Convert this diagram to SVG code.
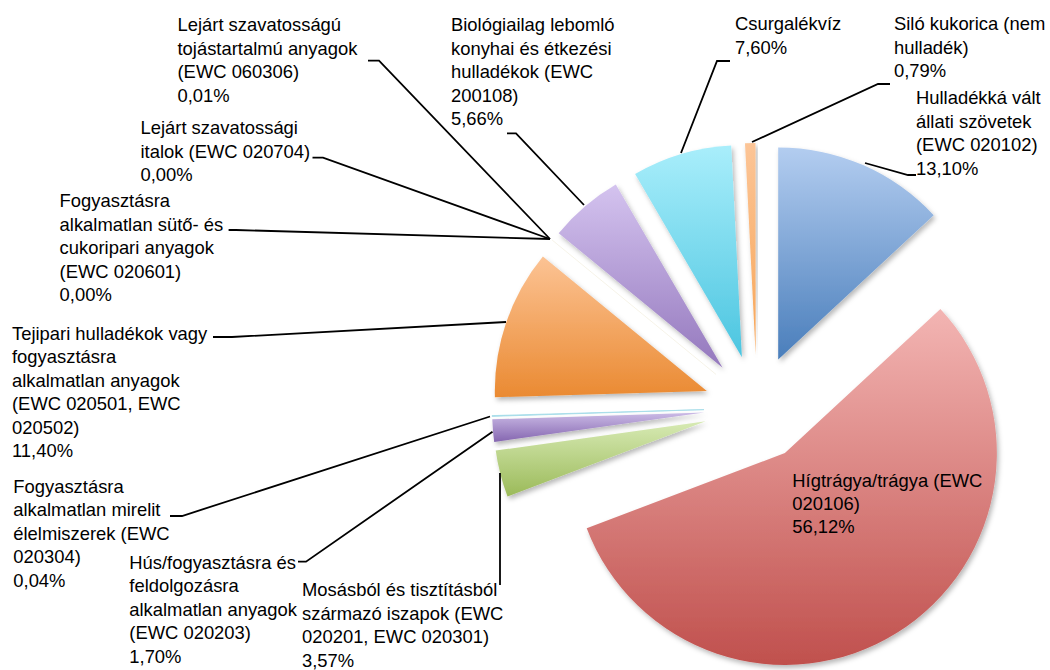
<svg xmlns="http://www.w3.org/2000/svg" width="1050" height="670" viewBox="0 0 1050 670">
<style>
text{font-family:"Liberation Sans",Arial,sans-serif;font-size:18.4px;fill:#000}
.lead{fill:none;stroke:#000;stroke-width:1.8}
.sl{filter:url(#sh)}
</style>
<defs>
<filter id="sh" x="-20%" y="-20%" width="140%" height="140%"><feDropShadow dx="2" dy="3" stdDeviation="2.5" flood-color="#000" flood-opacity="0.28"/></filter>
<linearGradient id="gBlue" x1="0" y1="0" x2="0" y2="1"><stop offset="0" stop-color="#b3cdf0"/><stop offset="1" stop-color="#4a7ebb"/></linearGradient>
<linearGradient id="gRed" x1="0" y1="0" x2="0" y2="1"><stop offset="0" stop-color="#f3b5b3"/><stop offset="1" stop-color="#c0504d"/></linearGradient>
<linearGradient id="gGreen" x1="0" y1="0" x2="0" y2="1"><stop offset="0" stop-color="#d7eab4"/><stop offset="1" stop-color="#9bba59"/></linearGradient>
<linearGradient id="gPurple" x1="0" y1="0" x2="0" y2="1"><stop offset="0" stop-color="#d4c3ef"/><stop offset="1" stop-color="#9478bd"/></linearGradient>
<linearGradient id="gPurple2" x1="0" y1="0" x2="0" y2="1"><stop offset="0" stop-color="#cbbbe6"/><stop offset="1" stop-color="#8566b0"/></linearGradient>
<linearGradient id="gCyan" x1="0" y1="0" x2="0" y2="1"><stop offset="0" stop-color="#a9eefb"/><stop offset="1" stop-color="#4bc5e0"/></linearGradient>
<linearGradient id="gOrange" x1="0" y1="0" x2="0" y2="1"><stop offset="0" stop-color="#fcc394"/><stop offset="1" stop-color="#ea8a32"/></linearGradient>
<linearGradient id="gOrange2" x1="0" y1="0" x2="0" y2="1"><stop offset="0" stop-color="#fcc597"/><stop offset="1" stop-color="#f7a556"/></linearGradient>
</defs>

<g id="slice-hulladekka-valt">
<path class="sl" fill="url(#gBlue)" d="M778.2,359.4 L778.2,147.4 A212,212 0 0 1 933.7,215.3 Z"/>
</g>
<g id="slice-higtragya">
<path class="sl" fill="url(#gRed)" d="M784.9,453 L940.4,308.9 A212,212 0 1 1 586.7,528.3 Z"/>
</g>
<g id="slice-mosasbol">
<path class="sl" fill="url(#gGreen)" d="M705.7,421.2 L507.5,496.5 A212,212 0 0 1 495.7,450.6 Z"/>
</g>
<g id="slice-hus">
<path class="sl" fill="url(#gPurple2)" d="M704.2,412.5 L494.2,441.9 A212,212 0 0 1 492.3,419.3 Z"/>
</g>
<g id="slice-mirelit">
<path fill="#a5dce9" stroke="#a5dce9" stroke-width="0.8" d="M704,409.6 L492.1,416.4 L492.1,415.6 Z"/>
</g>
<g id="slice-tejipari">
<path class="sl" fill="url(#gOrange)" d="M706.8,390.9 L494.9,397.2 A212,212 0 0 1 542.9,256.5 Z"/>
</g>
<g id="slice-zero">
<path fill="none" stroke="#f4f0e2" stroke-width="0.8" d="M716,374.4 L552.1,240"/>
</g>
<g id="slice-biologiai">
<path class="sl" fill="url(#gPurple)" d="M722.6,367.7 L558.7,233.2 A212,212 0 0 1 615.8,184.5 Z"/>
</g>
<g id="slice-csurgalekviz">
<path class="sl" fill="url(#gCyan)" d="M741.9,357.2 L635.1,174 A212,212 0 0 1 731.2,145.5 Z"/>
</g>
<g id="slice-silo">
<path class="sl" fill="url(#gOrange2)" d="M755.65,355 L745,143.3 A212,212 0 0 1 755.5,143 Z"/>
</g>

<g id="connectors">
<polyline class="lead" points="368,60.7 379,60.7 550,239"/>
<polyline class="lead" points="312.5,157.7 323,157.7 550,239"/>
<polyline class="lead" points="228.6,230 236,230 550,239"/>
<polyline class="lead" points="507,133.3 516,133.3 584,205"/>
<polyline class="lead" points="730,61 717,61 681,153"/>
<polyline class="lead" points="890,84 878,84 752,142"/>
<polyline class="lead" points="916,175 908,175 865,163"/>
<polyline class="lead" points="213,337 232,337 506,322"/>
<polyline class="lead" points="170,516 182,516 490,416.5"/>
<polyline class="lead" points="298,561.7 306,561.7 492.5,431.7"/>
<polyline class="lead" points="500,585 500,473"/>
</g>

<g id="label-tojas">
<text x="177.5" y="31">Lejárt szavatosságú</text>
<text x="177.5" y="54.5">tojástartalmú anyagok</text>
<text x="177.5" y="78">(EWC 060306)</text>
<text x="177.5" y="101.5">0,01%</text>
</g>
<g id="label-biologiai">
<text x="451" y="31">Biológiailag lebomló</text>
<text x="451" y="54.5">konyhai és étkezési</text>
<text x="451" y="78">hulladékok (EWC</text>
<text x="451" y="101.5">200108)</text>
<text x="451" y="125">5,66%</text>
</g>
<g id="label-csurgalekviz">
<text x="735" y="30">Csurgalékvíz</text>
<text x="735" y="53.5">7,60%</text>
</g>
<g id="label-silo">
<text x="894" y="30">Siló kukorica (nem</text>
<text x="894" y="53.5">hulladék)</text>
<text x="894" y="77">0,79%</text>
</g>
<g id="label-hulladekka">
<text x="916" y="104">Hulladékká vált</text>
<text x="916" y="127.5">állati szövetek</text>
<text x="916" y="151">(EWC 020102)</text>
<text x="916" y="174.5">13,10%</text>
</g>
<g id="label-italok">
<text x="140.5" y="134">Lejárt szavatossági</text>
<text x="140.5" y="157.5">italok (EWC 020704)</text>
<text x="140.5" y="181">0,00%</text>
</g>
<g id="label-suto">
<text x="59.6" y="207">Fogyasztásra</text>
<text x="59.6" y="230.5">alkalmatlan sütő- és</text>
<text x="59.6" y="254">cukoripari anyagok</text>
<text x="59.6" y="277.5">(EWC 020601)</text>
<text x="59.6" y="301">0,00%</text>
</g>
<g id="label-tejipari">
<text x="12" y="339.5">Tejipari hulladékok vagy</text>
<text x="12" y="363">fogyasztásra</text>
<text x="12" y="386.5">alkalmatlan anyagok</text>
<text x="12" y="410">(EWC 020501, EWC</text>
<text x="12" y="433.5">020502)</text>
<text x="12" y="457">11,40%</text>
</g>
<g id="label-mirelit">
<text x="13.3" y="492.5">Fogyasztásra</text>
<text x="13.3" y="516">alkalmatlan mirelit</text>
<text x="13.3" y="539.5">élelmiszerek (EWC</text>
<text x="13.3" y="563">020304)</text>
<text x="13.3" y="586.5">0,04%</text>
</g>
<g id="label-hus">
<text x="129.3" y="568.5">Hús/fogyasztásra és</text>
<text x="129.3" y="592">feldolgozásra</text>
<text x="129.3" y="615.5">alkalmatlan anyagok</text>
<text x="129.3" y="639">(EWC 020203)</text>
<text x="129.3" y="662.5">1,70%</text>
</g>
<g id="label-mosasbol">
<text x="302" y="596">Mosásból és tisztításból</text>
<text x="302" y="619.5">származó iszapok (EWC</text>
<text x="302" y="643">020201, EWC 020301)</text>
<text x="302" y="666.5">3,57%</text>
</g>
<g id="label-higtragya">
<text x="792.3" y="486.7">Hígtrágya/trágya (EWC</text>
<text x="792.3" y="510">020106)</text>
<text x="792.3" y="533.3">56,12%</text>
</g>
</svg>
